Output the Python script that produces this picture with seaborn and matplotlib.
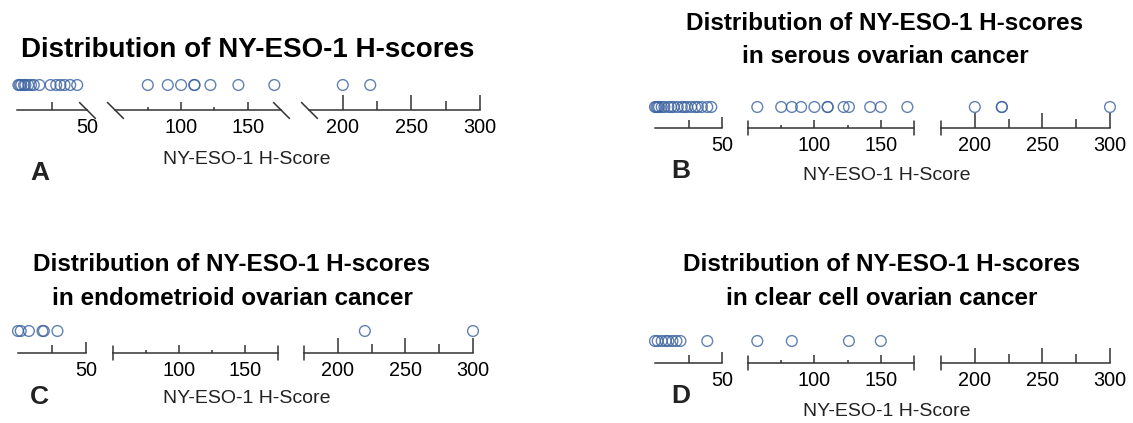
import numpy as np
import matplotlib
matplotlib.use("Agg")
import matplotlib.pyplot as plt
import seaborn as sns

sns.set_theme(style="white")
plt.rcParams["font.family"] = ["Liberation Sans", "DejaVu Sans"]

# ---- data: NY-ESO-1 H-scores per cohort ----
scores_all = [1, 2, 3, 5, 6, 8, 10, 12, 16, 24, 28, 31, 34, 38, 43,
              75, 90, 100, 110, 110, 122, 143, 170, 200, 220]
scores_serous = [0, 1, 2, 3, 5, 7, 10, 12, 14, 17, 20, 22, 24, 27, 30, 32, 35, 39, 42,
                 57, 75, 83, 90, 100, 110, 110, 122, 126, 142, 150, 170,
                 200, 220, 220, 300]
scores_endometrioid = [0, 2, 8, 18, 19, 29, 220, 300]
scores_clear_cell = [0, 2, 5, 8, 10, 13, 16, 19, 39, 57, 83, 126, 150]

# broken-axis segments and their ticks
segment_ranges = [(0, 50), (50, 175), (175, 300)]
major_ticks = [[50], [100, 150], [200, 250, 300]]
minor_ticks = [[25], [75, 125], [225, 275]]

title_all = ["Distribution of NY-ESO-1 H-scores"]
title_serous = ["Distribution of NY-ESO-1 H-scores", "in serous ovarian cancer"]
title_endometrioid = ["Distribution of NY-ESO-1 H-scores", "in endometrioid ovarian cancer"]
title_clear_cell = ["Distribution of NY-ESO-1 H-scores", "in clear cell ovarian cancer"]
x_label = "NY-ESO-1 H-Score"
panel_letters = ["A", "B", "C", "D"]

W, H = 1133, 423
fig = plt.figure(figsize=(W / 100, H / 100), dpi=100)
fig.patch.set_facecolor("white")

POINT = "#3a62a0"
AXIS = "#333333"
AX_H = 30  # height of each strip axes in px
PX2PT = 0.72

# layout of each panel, in pixels
panels = [
    dict(data=scores_all, title=title_all, tsize=20, tx=248, ty=[57],
         segs=[(17, 87), (114.5, 281), (308.5, 480)], line_y=110, off=25,
         xl=(247, 160), letter=(40, 173), breaks="diag"),
    dict(data=scores_serous, title=title_serous, tsize=17.5, tx=885, ty=[30, 63],
         segs=[(655, 722), (748, 914), (941, 1110)], line_y=128, off=21,
         xl=(887, 175), letter=(681, 171), breaks="cap"),
    dict(data=scores_endometrioid, title=title_endometrioid, tsize=17.5, tx=232, ty=[271, 305],
         segs=[(18, 86), (113, 278), (304, 473)], line_y=353, off=22,
         xl=(247, 398), letter=(39, 397), breaks="cap"),
    dict(data=scores_clear_cell, title=title_clear_cell, tsize=17.5, tx=882, ty=[271, 305],
         segs=[(655, 722), (748, 914), (941, 1110)], line_y=363, off=22,
         xl=(887, 411), letter=(681, 396), breaks="cap"),
]

# tick lengths (px) for major / minor per segment
tick_len = [(11, 8), (8, 3), (15, 9)]

for p_i, p in enumerate(panels):
    vals = np.asarray(p["data"], dtype=float)
    for s_i, ((lo, hi), (x0, x1)) in enumerate(zip(segment_ranges, p["segs"])):
        ax = fig.add_axes([x0 / W, 1 - p["line_y"] / H, (x1 - x0) / W, AX_H / H])
        ax.set_facecolor("none")
        if s_i == 0:
            sel = vals[(vals >= lo) & (vals <= hi)]
        else:
            sel = vals[(vals > lo) & (vals <= hi)]
        if len(sel):
            sns.scatterplot(x=sel, y=np.zeros(len(sel)), ax=ax, marker="o", s=60,
                            facecolor="none", edgecolor=POINT, linewidth=1.0,
                            alpha=0.8, clip_on=False, legend=False)
        ax.set_xlim(lo, hi)
        ax.set_ylim(-p["off"], AX_H - p["off"])
        for side in ["left", "top", "right"]:
            ax.spines[side].set_visible(False)
        ax.spines["bottom"].set_color(AXIS)
        ax.spines["bottom"].set_linewidth(1.1)
        ax.set_yticks([])
        ax.set_xticks(major_ticks[s_i])
        ax.set_xticklabels([str(t) for t in major_ticks[s_i]])
        ax.set_xticks(minor_ticks[s_i], minor=True)
        maj_len, min_len = tick_len[s_i]
        if p["breaks"] == "diag" and s_i == 0:
            maj_len = 0
        ax.tick_params(axis="x", which="major", bottom=True, direction="in",
                       length=maj_len * PX2PT, width=1.1, color=AXIS,
                       labelsize=14.3, pad=5.5, labelcolor="black")
        ax.tick_params(axis="x", which="minor", bottom=True, direction="in",
                       length=min_len * PX2PT, width=1.1, color=AXIS)
        ax.set_xlabel("")
        ax.set_ylabel("")

        # segment end markers
        if s_i == 0:
            ends = [hi] if p["breaks"] == "diag" else []
        elif s_i == 1:
            ends = [lo, hi]
        else:
            ends = [lo]
        for e in ends:
            if p["breaks"] == "diag":
                ax.plot([e], [0], transform=ax.get_xaxis_transform(), ls="none",
                        marker=[(-1, 1), (1, -1)], markersize=12, mew=1.1,
                        color=AXIS, clip_on=False)
            else:
                ax.axvline(e, ymin=-7 / AX_H, ymax=7 / AX_H, color=AXIS,
                           lw=1.1, clip_on=False)

    # titles, axis label and panel letter
    for line, y in zip(p["title"], p["ty"]):
        fig.text(p["tx"] / W, 1 - y / H, line, ha="center", va="baseline",
                 fontsize=p["tsize"], fontweight="bold", color="black")
    fig.text(p["xl"][0] / W, 1 - p["xl"][1] / H, x_label, ha="center", va="center",
             fontsize=14, color="#222222")
    fig.text(p["letter"][0] / W, 1 - p["letter"][1] / H, panel_letters[p_i],
             ha="center", va="center", fontsize=19, fontweight="bold", color="#222222")

fig.savefig("out.png", dpi=100, facecolor="white")
